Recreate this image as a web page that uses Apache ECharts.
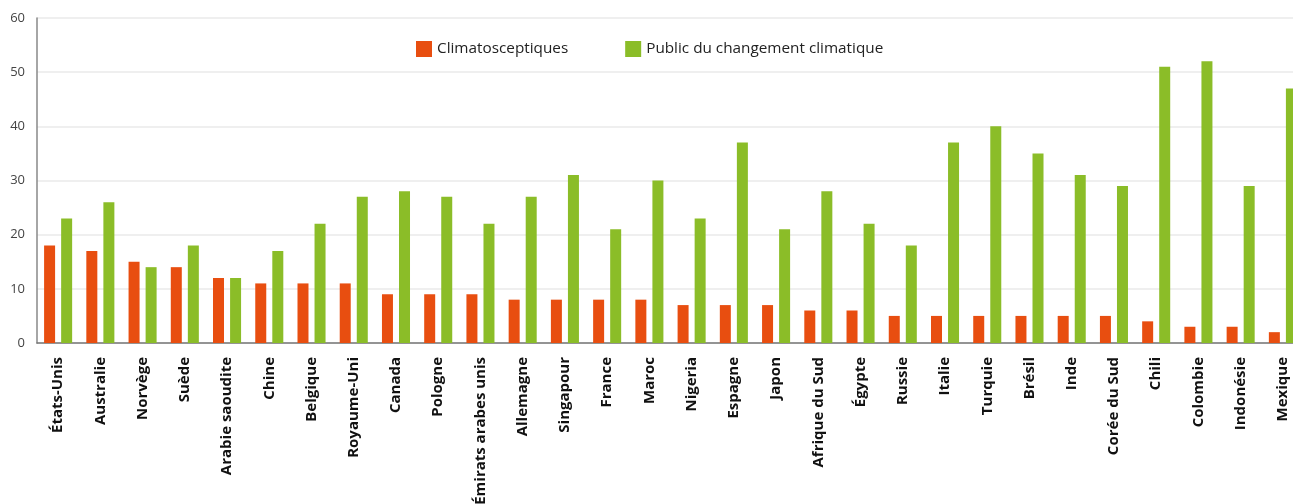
<!DOCTYPE html>
<html><head><meta charset="utf-8">
<script src="https://cdn.jsdelivr.net/npm/echarts@6/dist/echarts.min.js"></script>
<style>html,body{margin:0;padding:0;background:#fff}#c{width:1293px;height:504px}</style>
</head><body><div id="c"></div>
<script>
const categories = ["États-Unis","Australie","Norvège","Suède","Arabie saoudite","Chine","Belgique","Royaume-Uni","Canada","Pologne","Émirats arabes unis","Allemagne","Singapour","France","Maroc","Nigeria","Espagne","Japon","Afrique du Sud","Égypte","Russie","Italie","Turquie","Brésil","Inde","Corée du Sud","Chili","Colombie","Indonésie","Mexique"];
const climatosceptiques = [18,17,15,14,12,11,11,11,9,9,9,8,8,8,8,7,7,7,6,6,5,5,5,5,5,5,4,3,3,2];
const publicChangement = [23,26,14,18,12,17,22,27,28,27,22,27,31,21,30,23,37,21,28,22,18,37,40,35,31,29,51,52,29,47];
const seriesNames = ["Climatosceptiques","Public du changement climatique"];

const chart = echarts.init(document.getElementById('c'));
const font = "'Open Sans', 'Noto Sans', sans-serif";
chart.setOption({
  animation: false,
  textStyle: {fontFamily: font},
  legend: {
    top: 36, left: 411, itemWidth: 16, itemHeight: 16, itemGap: 57, icon: 'rect',
    textStyle: {fontSize: 15.3, color: '#222', fontFamily: font},
    data: seriesNames
  },
  grid: {left: 37, top: 18, width: 1267, height: 325, containLabel: false, outerBoundsMode: 'none'},
  xAxis: {
    type: 'category', data: categories,
    axisLine: {lineStyle: {color: '#777', width: 1.5}},
    axisTick: {show: false},
    axisLabel: {rotate: 90, interval: 0, margin: 14, fontSize: 15, fontWeight: 'bold', color: '#111', fontFamily: font}
  },
  yAxis: {
    type: 'value', min: 0, max: 60, interval: 10,
    axisLine: {show: true, lineStyle: {color: '#888', width: 1.5}},
    axisTick: {show: false},
    axisLabel: {fontSize: 13, color: '#444', margin: 12, fontFamily: font},
    splitLine: {lineStyle: {color: '#eaeaea', width: 1.5}}
  },
  series: [
    {name: seriesNames[0], type: 'bar', data: climatosceptiques, itemStyle: {color: '#E84E10'}, barWidth: 11, barGap: '55%'},
    {name: seriesNames[1], type: 'bar', data: publicChangement, itemStyle: {color: '#8BBD28'}, barWidth: 11}
  ]
});
</script></body></html>
